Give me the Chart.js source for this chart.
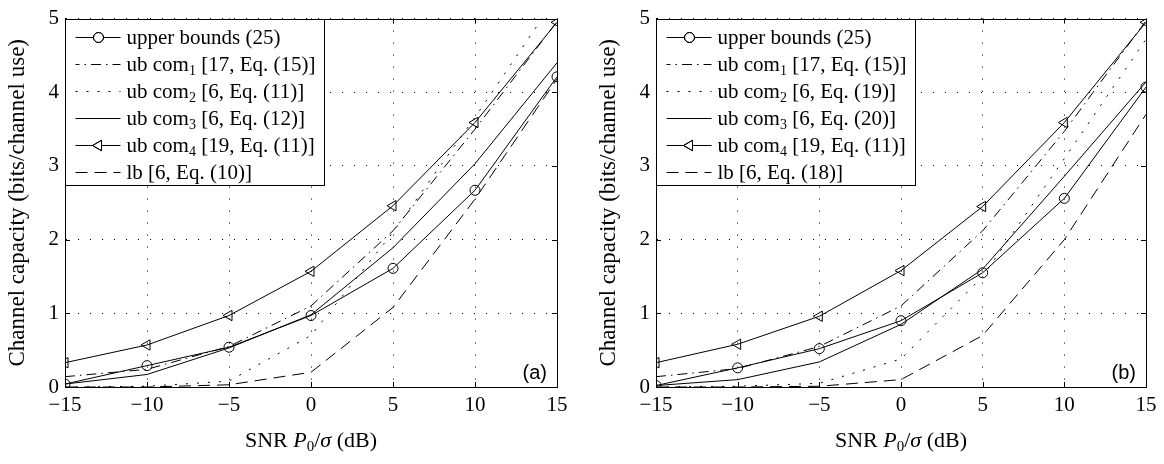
<!DOCTYPE html>
<html lang="en">
<head>
<meta charset="UTF-8">
<title>Channel capacity bounds</title>
<script src="https://cdn.jsdelivr.net/npm/chart.js"></script>
<style>
  body { margin: 0; background: #fff; width: 1164px; height: 464px; overflow: hidden; }
  canvas { position: absolute; top: 0; }
  #chartA { left: 0; }
  #chartB { left: 582px; }
</style>
</head>
<body>
<canvas id="chartA" width="582" height="464"></canvas>
<canvas id="chartB" width="582" height="464"></canvas>
<script>
// SNR axis (dB)
const snr = [-15, -10, -5, 0, 5, 10, 15];

// panel (a)
const upperA = [0.04, 0.29, 0.54, 0.97, 1.61, 2.67, 4.21];
const com1A  = [0.14, 0.24, 0.55, 1.10, 2.12, 3.50, 4.96];
const com2A  = [0.00, 0.01, 0.08, 0.70, 2.10, 3.66, 5.30];
const com3A  = [0.04, 0.17, 0.53, 0.98, 1.89, 3.03, 4.40];
const com4A  = [0.33, 0.57, 0.97, 1.57, 2.46, 3.59, 4.95];
const lbA    = [0.00, 0.00, 0.03, 0.20, 1.08, 2.55, 4.18];
const namesA = ['upper bounds (25)', 'ub com_1 [17, Eq. (15)]', 'ub com_2 [6, Eq. (11)]',
                'ub com_3 [6, Eq. (12)]', 'ub com_4 [19, Eq. (11)]', 'lb [6, Eq. (10)]'];

// panel (b)
const upperB = [0.02, 0.26, 0.52, 0.90, 1.55, 2.56, 4.07];
const com1B  = [0.14, 0.25, 0.55, 1.10, 2.12, 3.47, 4.97];
const com2B  = [0.00, 0.01, 0.05, 0.38, 1.50, 3.10, 4.72];
const com3B  = [0.02, 0.10, 0.34, 0.85, 1.60, 2.86, 4.14];
const com4B  = [0.33, 0.58, 0.96, 1.58, 2.45, 3.59, 4.95];
const lbB    = [0.00, 0.00, 0.01, 0.10, 0.70, 2.00, 3.70];
const namesB = ['upper bounds (25)', 'ub com_1 [17, Eq. (15)]', 'ub com_2 [6, Eq. (19)]',
                'ub com_3 [6, Eq. (20)]', 'ub com_4 [19, Eq. (11)]', 'lb [6, Eq. (18)]'];

const yTitle = 'Channel capacity (bits/channel use)';
const xTitle = [['SNR ', ''], ['P', 'i'], ['0', 's'], ['/', ''], ['σ', 'i'], [' (dB)', '']];

const serif = '"Liberation Serif", "Times New Roman", serif';

// line looks, same order as the series
const looks = [
    { dash: [], style: 'circle', r: 5, rot: 0 },
    { dash: [10, 5, 1.5, 5], style: false },
    { dash: [2, 9], style: false },
    { dash: [], style: false },
    { dash: [], style: 'triangle', r: 6, rot: 270 },
    { dash: [12, 7], style: false }
];

function minus(v) { return String(v).replace('-', '\u2212'); }

// draws text runs; kind '' normal, 'i' italic, 's' subscript
function drawRuns(ctx, runs, x, y, size, align) {
    const fontOf = k => (k === 'i' ? 'italic ' : '') + (k === 's' ? Math.round(size * 0.68) : size) + 'px ' + serif;
    let total = 0;
    runs.forEach(([t, k]) => { ctx.font = fontOf(k); total += ctx.measureText(t).width; });
    let cx = align === 'center' ? x - total / 2 : x;
    ctx.textAlign = 'left';
    runs.forEach(([t, k]) => {
        ctx.font = fontOf(k);
        ctx.fillText(t, cx, k === 's' ? y + size * 0.28 : y);
        cx += ctx.measureText(t).width;
    });
}

function toRuns(name) {
    const m = name.match(/^(.*?)_(\w)(.*)$/);
    return m ? [[m[1], ''], [m[2], 's'], [m[3], '']] : [[name, '']];
}

function makePlugin(names, tag) {
    return {
        id: 'decor',
        afterDatasetsDraw(chart) {
            const ctx = chart.ctx;
            const a = chart.chartArea;
            const xs = chart.scales.x, ys = chart.scales.y;
            ctx.save();
            ctx.strokeStyle = '#000';
            ctx.lineWidth = 1;
            // frame
            ctx.strokeRect(Math.round(a.left) + 0.5, Math.round(a.top) + 0.5,
                           Math.round(a.right - a.left), Math.round(a.bottom - a.top));
            // inward ticks
            ctx.beginPath();
            xs.ticks.forEach(t => {
                const px = Math.round(xs.getPixelForValue(t.value)) + 0.5;
                ctx.moveTo(px, a.bottom); ctx.lineTo(px, a.bottom - 5);
                ctx.moveTo(px, a.top); ctx.lineTo(px, a.top + 5);
            });
            ys.ticks.forEach(t => {
                const py = Math.round(ys.getPixelForValue(t.value)) + 0.5;
                ctx.moveTo(a.left, py); ctx.lineTo(a.left + 5, py);
                ctx.moveTo(a.right, py); ctx.lineTo(a.right - 5, py);
            });
            ctx.stroke();

            // legend box
            const bx = Math.round(a.left) + 0.5, by = Math.round(a.top) + 0.5;
            ctx.fillStyle = '#fff';
            ctx.fillRect(bx, by, 259, 166);
            ctx.strokeRect(bx, by, 259, 166);
            chart.data.datasets.forEach((ds, i) => {
                const lk = looks[i];
                const ry = by + 18 + i * 27;
                ctx.beginPath();
                ctx.setLineDash(lk.dash);
                ctx.lineDashOffset = i === 1 ? 6 : 0;
                ctx.moveTo(bx + 10, ry); ctx.lineTo(bx + 55, ry);
                ctx.stroke();
                ctx.setLineDash([]);
                if (lk.style) {
                    ctx.fillStyle = '#fff';
                    Chart.helpers.drawPoint(ctx, { pointStyle: lk.style, radius: lk.r, rotation: lk.rot, borderWidth: 1 }, bx + 33, ry);
                    ctx.stroke();
                }
                ctx.fillStyle = '#000';
                ctx.textBaseline = 'middle';
                drawRuns(ctx, toRuns(names[i]), bx + 61, ry + 1, 21, 'left');
            });

            // panel tag
            ctx.font = '20px "Liberation Sans", Arial, sans-serif';
            ctx.textAlign = 'right';
            ctx.textBaseline = 'alphabetic';
            ctx.fillStyle = '#000';
            ctx.fillText(tag, a.right - 10, a.bottom - 8);

            // axis titles
            ctx.textBaseline = 'middle';
            drawRuns(ctx, xTitle, (a.left + a.right) / 2, a.bottom + 54, 22, 'center');
            ctx.translate(a.left - 47, (a.top + a.bottom) / 2);
            ctx.rotate(-Math.PI / 2);
            drawRuns(ctx, [[yTitle, '']], 0, 0, 23, 'center');
            ctx.restore();
        }
    };
}

function makeChart(id, sets, names, tag, yWidth, rightPad) {
    const datasets = sets.map((vals, i) => ({
        data: vals.map((v, k) => ({ x: snr[k], y: v })),
        borderColor: '#000',
        borderWidth: 1,
        borderDash: looks[i].dash,
        pointStyle: looks[i].style || 'circle',
        pointRadius: looks[i].style ? looks[i].r : 0,
        pointRotation: looks[i].rot || 0,
        pointBorderColor: '#000',
        pointBackgroundColor: 'rgba(0,0,0,0)',
        pointBorderWidth: 1,
        fill: false,
        tension: 0
    }));
    return new Chart(document.getElementById(id), {
        type: 'line',
        data: { datasets },
        options: {
            responsive: false,
            animation: false,
            events: [],
            devicePixelRatio: 1,
            layout: { padding: { top: 7, right: rightPad, left: 0, bottom: 0 } },
            plugins: { legend: { display: false }, tooltip: { enabled: false } },
            scales: {
                x: {
                    type: 'linear', min: -15, max: 15,
                    afterFit: s => { s.height = 77; },
                    ticks: { stepSize: 5, color: '#000', padding: 6, maxRotation: 0,
                             font: { family: serif, size: 21 }, callback: v => minus(v) },
                    grid: { color: '#000', lineWidth: 1, drawTicks: false },
                    border: { color: '#000', width: 1, dash: [1, 11] }
                },
                y: {
                    min: 0, max: 5,
                    afterFit: s => { s.width = yWidth; },
                    ticks: { stepSize: 1, color: '#000', padding: 6,
                             font: { family: serif, size: 21 }, callback: v => minus(v) },
                    grid: { color: '#000', lineWidth: 1, drawTicks: false },
                    border: { color: '#000', width: 1, dash: [1, 11] }
                }
            }
        },
        plugins: [makePlugin(names, tag)]
    });
}

makeChart('chartA', [upperA, com1A, com2A, com3A, com4A, lbA], namesA, '(a)', 65, 25);
makeChart('chartB', [upperB, com1B, com2B, com3B, com4B, lbB], namesB, '(b)', 74, 18);
</script>
</body>
</html>
